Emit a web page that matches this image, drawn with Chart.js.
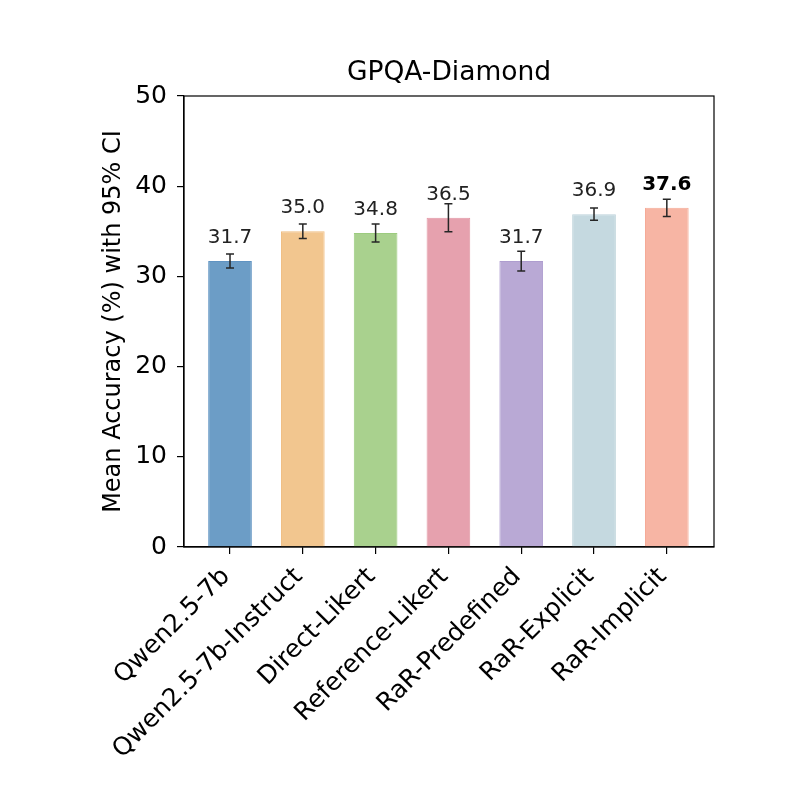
<!DOCTYPE html>
<html>
<head>
<meta charset="utf-8">
<script src="https://cdn.jsdelivr.net/npm/chart.js@4.4.1/dist/chart.umd.min.js"></script>
<style>
  html, body { margin: 0; padding: 0; background: #fff; }
  #wrap { width: 800px; height: 800px; }
</style>
</head>
<body>
<div id="wrap"><canvas id="chart" width="800" height="800"></canvas></div>
<script>
const categories = ['Qwen2.5-7b', 'Qwen2.5-7b-Instruct', 'Direct-Likert', 'Reference-Likert', 'RaR-Predefined', 'RaR-Explicit', 'RaR-Implicit'];
const accuracy = [31.7, 35.0, 34.8, 36.5, 31.7, 36.9, 37.6];
const ciHalf = [0.77, 0.8, 1.0, 1.55, 1.1, 0.68, 0.95];
const fillColors = ['#6c9dc6', '#f2c68f', '#a9d18e', '#e6a1ae', '#b9a9d5', '#c5d9e0', '#f7b5a4'];
const edgeColors = ['#5f93c2', '#f0bd80', '#9ccb7f', '#e296a4', '#ae9dcf', '#bcd2da', '#f5aa97'];
const yTicks = [0, 10, 20, 30, 40, 50];
const chartTitle = 'GPQA-Diamond';
const yTitle = 'Mean Accuracy (%) with 95% CI';

const FONT = "'DejaVu Sans', sans-serif";

// error bars, value labels, frame and title
const overlay = {
    id: 'overlay',
    afterDatasetsDraw(chart) {
        const ctx = chart.ctx;
        const xs = chart.scales.x;
        const ys = chart.scales.y;
        const area = chart.chartArea;

        ctx.save();
        ctx.strokeStyle = '#262626';
        ctx.lineWidth = 1.5;
        accuracy.forEach((v, i) => {
            const x = xs.getPixelForValue(i);
            const yTop = ys.getPixelForValue(v + ciHalf[i]);
            const yBot = ys.getPixelForValue(v - ciHalf[i]);
            ctx.beginPath();
            ctx.moveTo(x, yTop); ctx.lineTo(x, yBot);
            ctx.moveTo(x - 4, yTop); ctx.lineTo(x + 4, yTop);
            ctx.moveTo(x - 4, yBot); ctx.lineTo(x + 4, yBot);
            ctx.stroke();
        });

        ctx.textAlign = 'center';
        ctx.textBaseline = 'alphabetic';
        const best = Math.max(...accuracy);
        accuracy.forEach((v, i) => {
            const isBest = v === best;
            ctx.font = (isBest ? 'bold ' : '') + '20px ' + FONT;
            ctx.fillStyle = isBest ? '#000' : '#222';
            ctx.fillText(v.toFixed(1), xs.getPixelForValue(i), ys.getPixelForValue(v + 2));
        });

        ctx.strokeStyle = '#000';
        ctx.lineWidth = 1.2;
        ctx.strokeRect(area.left, area.top, area.right - area.left, area.bottom - area.top);

        ctx.font = '26.5px ' + FONT;
        ctx.fillStyle = '#000';
        ctx.textBaseline = 'middle';
        ctx.fillText(chartTitle, (area.left + area.right) / 2, 73);
        ctx.restore();
    }
};

new Chart(document.getElementById('chart'), {
    type: 'bar',
    data: {
        datasets: [{
            data: accuracy.map((v, i) => ({ x: i, y: v })),
            backgroundColor: fillColors,
            borderColor: edgeColors,
            borderWidth: 1,
            barPercentage: 0.6,
            categoryPercentage: 1.0
        }]
    },
    options: {
        responsive: false,
        animation: false,
        layout: { padding: { top: 96, right: 86, bottom: 0, left: 0 } },
        plugins: {
            legend: { display: false },
            tooltip: { enabled: false }
        },
        scales: {
            x: {
                type: 'linear',
                offset: false,
                min: -0.632,
                max: 6.648,
                afterBuildTicks: scale => { scale.ticks = categories.map((c, i) => ({ value: i })); },
                afterFit: scale => { scale.height = 253; },
                grid: { offset: false, drawOnChartArea: false, drawTicks: true, tickLength: 7, color: '#000', lineWidth: 1.2 },
                border: { color: '#000', width: 1.2 },
                ticks: {
                    autoSkip: false,
                    maxRotation: 45,
                    minRotation: 45,
                    padding: 8,
                    labelOffset: -4,
                    color: '#000',
                    font: { family: FONT, size: 25 },
                    callback: value => categories[value]
                }
            },
            y: {
                min: 0,
                max: 50,
                afterBuildTicks: scale => { scale.ticks = yTicks.map(v => ({ value: v })); },
                afterFit: scale => { scale.width = 184; },
                grid: { drawOnChartArea: false, drawTicks: true, tickLength: 7, color: '#000', lineWidth: 1.2 },
                border: { color: '#000', width: 1.2 },
                ticks: {
                    padding: 10,
                    color: '#000',
                    font: { family: FONT, size: 25 }
                },
                title: {
                    display: true,
                    text: yTitle,
                    color: '#000',
                    font: { family: FONT, size: 24, lineHeight: 1.2 },
                    padding: { top: 99, bottom: 0 }
                }
            }
        }
    },
    plugins: [overlay]
});
</script>
</body>
</html>
